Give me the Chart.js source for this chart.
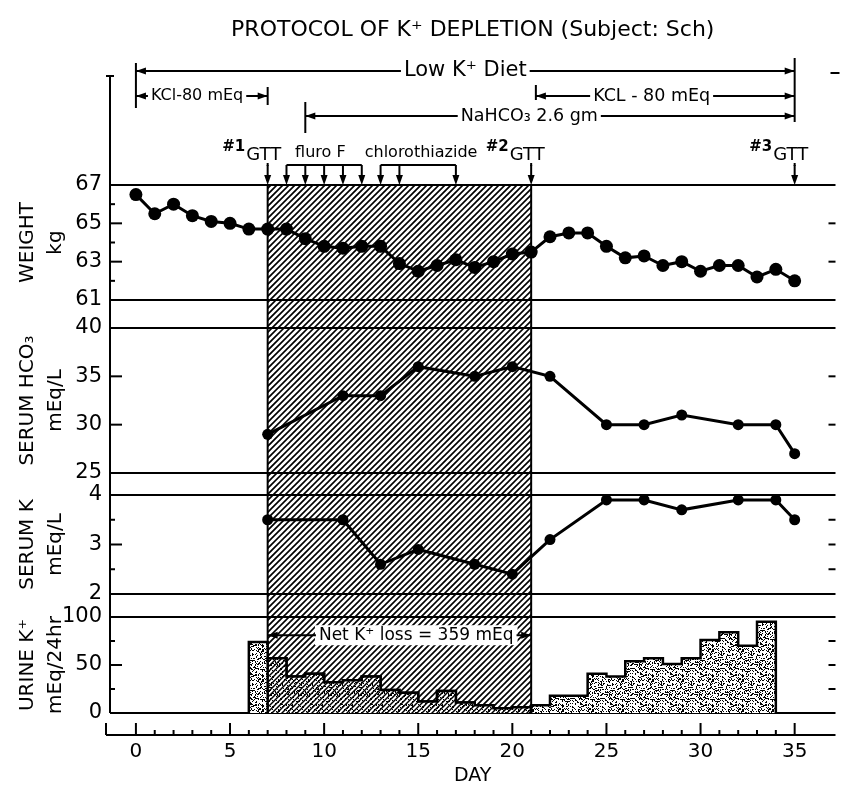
<!DOCTYPE html>
<html>
<head>
<meta charset="utf-8">
<script src="https://cdn.jsdelivr.net/npm/chart.js@4.4.0/dist/chart.umd.min.js"></script>
<style>
  html, body { margin: 0; padding: 0; background: #fff; }
</style>
</head>
<body>
<canvas id="chart" width="842" height="789"></canvas>
<script>
const FONT = "'DejaVu Sans', 'Liberation Sans', sans-serif";
Chart.defaults.font.family = FONT;
Chart.defaults.color = '#000';

// values
const days = [0, 1, 2, 3, 4, 5, 6, 7, 8, 9, 10, 11, 12, 13, 14, 15, 16, 17,
  18, 19, 20, 21, 22, 23, 24, 25, 26, 27, 28, 29, 30, 31, 32, 33, 34, 35];
const weightKg = [66.5, 65.5, 66.0, 65.4, 65.1, 65.0, 64.7, 64.7, 64.7, 64.2, 63.8, 63.7,
  63.8, 63.8, 62.9, 62.5, 62.8, 63.1, 62.7, 63.0, 63.4, 63.5, 64.3, 64.5,
  64.5, 63.8, 63.2, 63.3, 62.8, 63.0, 62.5, 62.8, 62.8, 62.2, 62.6, 62.0];

const bloodDays = [7, 11, 13, 15, 18, 20, 22, 25, 27, 29, 32, 34, 35];
const hco3Values = [29, 33, 33, 36, 35, 36, 35, 30, 30, 31, 30, 30, 27];
const serumKValues = [3.5, 3.5, 2.6, 2.9, 2.6, 2.4, 3.1, 3.9, 3.9, 3.7, 3.9, 3.9, 3.5];

// 24 h urine collections, start day of each collection
const urineDays = [6, 7, 8, 9, 10, 11, 12, 13, 14, 15, 16, 17, 18, 19,
  20, 21, 22, 23, 24, 25, 26, 27, 28, 29, 30, 31, 32, 33];
const urineValues = [74, 57, 38, 41, 32, 34, 38, 24, 21, 12, 23, 11, 8, 5,
  6, 8, 18, 18, 41, 38, 54, 57, 51, 57, 76, 84, 70, 95];

const depletionStart = 7;
const depletionEnd = 21;
const netKLoss = 359;

const gttDays = [7, 21, 35];
const fluroDays = [8, 9, 10, 11, 12];
const chlorothiazideDays = [13, 14, 17];
const regimenLabels = ['Low K⁺ Diet', 'KCl-80 mEq', 'KCL - 80 mEq', 'NaHCO₃ 2.6 gm'];
const regimenStart = [0, 0, 21.25, 9];
const regimenEnd = [35, 7, 35, 35];

const dayTicks = [0, 5, 10, 15, 20, 25, 30, 35];
const weightTicks = [61, 63, 65, 67];
const hco3Ticks = [25, 30, 35, 40];
const serumKTicks = [2, 3, 4];
const urineTicks = [0, 50, 100];
const weightMinor = [62, 64, 66];
const serumKMinor = [2.5, 3.5];
const urineMinor = [25, 75];

function pts(xs, ys) {
  return xs.map((x, i) => ({ x, y: ys[i] }));
}

// stepped outline of the daily urine collections
function urineSteps(from, to) {
  const out = [];
  let last = null;
  urineDays.forEach((d, i) => {
    if (d < from || d >= to) return;
    if (!out.length) out.push({ x: d, y: 0 });
    out.push({ x: d, y: urineValues[i] });
    last = d;
  });
  out.push({ x: last + 1, y: 0 });
  return out;
}

function makePattern(size, draw) {
  const c = document.createElement('canvas');
  c.width = size; c.height = size;
  const g = c.getContext('2d');
  draw(g, size);
  return g.createPattern(c, 'repeat');
}
function diagonals(g, s, step, lw) {
  g.strokeStyle = '#000';
  g.lineWidth = lw;
  g.beginPath();
  for (let k = -s; k <= s; k += step) {
    g.moveTo(k - 1, s + 1);
    g.lineTo(k + s + 1, -1);
  }
  g.stroke();
}
function stippleTile(g, s, pct) {
  g.fillStyle = '#000';
  for (let i = 0; i < s; i++) {
    for (let j = 0; j < s; j++) {
      const h = ((i * 73856093) ^ (j * 19349663) ^ (i * j * 83492791)) >>> 0;
      if (h % 100 < pct) g.fillRect(i, j, 1, 1);
    }
  }
}

const hatchPattern = makePattern(30, (g, s) => diagonals(g, s, 6, 1.6));
const stipplePattern = makePattern(30, (g, s) => {
  g.fillStyle = '#fff'; g.fillRect(0, 0, s, s);
  stippleTile(g, s, 32);
});
const denseBarPattern = makePattern(30, (g, s) => {
  g.fillStyle = '#fff'; g.fillRect(0, 0, s, s);
  stippleTile(g, s, 16);
  diagonals(g, s, 5, 1.5);
});

function seg(ctx, x0, y0, x1, y1) {
  ctx.beginPath(); ctx.moveTo(x0, y0); ctx.lineTo(x1, y1); ctx.stroke();
}
function head(ctx, x, y, dir) {
  const L = 10, W = 3.5;
  ctx.beginPath();
  ctx.moveTo(x, y);
  if (dir === 'left') { ctx.lineTo(x + L, y - W); ctx.lineTo(x + L, y + W); }
  else if (dir === 'right') { ctx.lineTo(x - L, y - W); ctx.lineTo(x - L, y + W); }
  else { ctx.lineTo(x - W, y - L); ctx.lineTo(x + W, y - L); }
  ctx.closePath(); ctx.fill();
}
function span(ctx, text, x0, x1, tx, y, size) {
  ctx.font = `${size}px ${FONT}`;
  ctx.textAlign = 'center'; ctx.textBaseline = 'middle';
  const w = ctx.measureText(text).width;
  ctx.fillText(text, tx, y);
  seg(ctx, x0, y, tx - w / 2 - 3, y);
  seg(ctx, tx + w / 2 + 3, y, x1, y);
  head(ctx, x0, y, 'left');
  head(ctx, x1, y, 'right');
}

const panels = [
  { id: 'yWeight', major: [63, 65], minor: weightMinor, rightMinor: false },
  { id: 'yHco3', major: [30, 35], minor: [], rightMinor: false },
  { id: 'yK', major: [3], minor: serumKMinor, rightMinor: true },
  { id: 'yUrine', major: [50], minor: urineMinor, rightMinor: true }
];

const protocolDecor = {
  id: 'protocolDecor',
  beforeDatasetsDraw(chart) {
    const { ctx, chartArea: a, scales } = chart;
    const px = v => scales.x.getPixelForValue(v);
    ctx.save();
    const h0 = px(depletionStart), h1 = px(depletionEnd);
    ctx.fillStyle = hatchPattern;
    ctx.fillRect(h0, a.top, h1 - h0, a.bottom - a.top);
    ctx.strokeStyle = '#000';
    ctx.lineWidth = 2;
    seg(ctx, h0, a.top, h0, a.bottom);
    seg(ctx, h1, a.top, h1, a.bottom);
    // panel frames and inward ticks
    for (const p of panels) {
      const s = scales[p.id];
      seg(ctx, a.left, s.top, a.right, s.top);
      seg(ctx, a.left, s.bottom, a.right, s.bottom);
      for (const v of p.major) {
        const y = s.getPixelForValue(v);
        seg(ctx, a.left, y, a.left + 12, y);
        seg(ctx, a.right, y, a.right - 7, y);
      }
      for (const v of p.minor) {
        const y = s.getPixelForValue(v);
        seg(ctx, a.left, y, a.left + 5, y);
        if (p.rightMinor) seg(ctx, a.right, y, a.right - 7, y);
      }
    }
    // left frame
    seg(ctx, a.left, 76, a.left, a.bottom);
    seg(ctx, a.left - 4, 76, a.left + 4, 76);
    seg(ctx, a.right - 5, 73, a.right + 4, 73);
    // day axis
    const ay = a.bottom + 22;
    seg(ctx, a.left - 4, ay, a.right, ay);
    seg(ctx, a.left - 4, ay - 12, a.left - 4, ay);
    for (let d = 0; d <= 35; d++) {
      const x = px(d);
      seg(ctx, x, ay - (d % 5 === 0 ? 12 : 5), x, ay);
    }
    ctx.restore();
  },
  afterDatasetsDraw(chart) {
    const { ctx, chartArea: a, scales } = chart;
    const px = v => scales.x.getPixelForValue(v);
    ctx.save();
    ctx.strokeStyle = '#000'; ctx.fillStyle = '#000'; ctx.lineWidth = 2;

    // net loss bracket
    const yk = scales.yUrine.getPixelForValue(81);
    const text = `Net K⁺ loss = ${netKLoss} mEq`;
    ctx.font = `17px ${FONT}`;
    const w = ctx.measureText(text).width;
    const tx = px(15) - 2;
    ctx.fillStyle = '#fff';
    ctx.fillRect(tx - w / 2 - 4, yk - 10, w + 8, 20);
    ctx.fillStyle = '#000';
    span(ctx, text, px(depletionStart), px(depletionEnd), tx, yk, 17);

    // treatment regimens
    const rowY = [71, 96, 96, 116];
    const textAt = [17.5, 3.25, 27.4, 20.9];
    const sizes = [21, 16, 17.5, 17.5];
    regimenLabels.forEach((lab, i) => {
      span(ctx, lab, px(regimenStart[i]), px(regimenEnd[i]), px(textAt[i]), rowY[i], sizes[i]);
    });
    seg(ctx, px(0), 63, px(0), 108);
    seg(ctx, px(35), 58, px(35), 122);
    seg(ctx, px(7), 87, px(7), 105);
    seg(ctx, px(21.25), 85, px(21.25), 100);
    seg(ctx, px(9), 102, px(9), 133);

    // GTT and drug markers
    const arrowDown = d => {
      const x = px(d);
      seg(ctx, x, 165, x, a.top - 4);
      head(ctx, x, a.top, 'down');
    };
    ctx.textBaseline = 'middle';
    gttDays.forEach((d, i) => {
      const x = px(d) - 4;
      arrowDown(d);
      seg(ctx, px(d), 163, px(d), 166);
      ctx.font = `18px ${FONT}`;
      ctx.textAlign = 'center';
      ctx.fillText('GTT', x, 155);
      const gw = ctx.measureText('GTT').width;
      ctx.font = `bold 15px ${FONT}`;
      ctx.textAlign = 'right';
      ctx.fillText('#' + (i + 1), x - gw / 2 - 1, 147);
    });
    const bracket = (list, label, tx) => {
      seg(ctx, px(list[0]), 165, px(list[list.length - 1]), 165);
      list.forEach(arrowDown);
      ctx.font = `16px ${FONT}`;
      ctx.textAlign = 'center';
      ctx.fillText(label, px(tx), 153);
    };
    bracket(fluroDays, 'fluro F', 9.8);
    bracket(chlorothiazideDays, 'chlorothiazide', 15.15);
    ctx.restore();
  }
};

function panelAxis(min, max, ticks, title, order, stackWeight) {
  return {
    type: 'linear', position: 'left', stack: 'panels', stackWeight, weight: order,
    min, max,
    afterBuildTicks: s => { s.ticks = ticks.map(v => ({ value: v })); },
    afterFit: s => { s.width = 110; },
    grid: { display: false, drawTicks: false },
    border: { display: false },
    ticks: { padding: 8, autoSkip: false, color: '#000', font: { size: 21 } },
    title: {
      display: !!title, text: title, color: '#000',
      font: { size: 20, lineHeight: 1.4 }, padding: { top: 14, bottom: 0 }
    }
  };
}
function spacerAxis(order, stackWeight) {
  return {
    type: 'linear', position: 'left', stack: 'panels', stackWeight, weight: order,
    min: 0, max: 1,
    afterFit: s => { s.width = 110; },
    grid: { display: false, drawTicks: false },
    border: { display: false },
    ticks: { display: false }
  };
}

new Chart(document.getElementById('chart'), {
  type: 'line',
  data: {
    datasets: [
      {
        data: pts(days, weightKg), yAxisID: 'yWeight', order: 0,
        borderColor: '#000', borderWidth: 3, pointRadius: 6.5,
        pointBackgroundColor: '#000', pointBorderWidth: 0
      },
      {
        data: pts(bloodDays, hco3Values), yAxisID: 'yHco3', order: 0,
        borderColor: '#000', borderWidth: 3, pointRadius: 5.5,
        pointBackgroundColor: '#000', pointBorderWidth: 0
      },
      {
        data: pts(bloodDays, serumKValues), yAxisID: 'yK', order: 0,
        borderColor: '#000', borderWidth: 3, pointRadius: 5.5,
        pointBackgroundColor: '#000', pointBorderWidth: 0
      },
      {
        data: urineSteps(depletionStart, depletionEnd), yAxisID: 'yUrine', order: 1,
        stepped: true, fill: 'origin', backgroundColor: denseBarPattern,
        borderColor: '#000', borderWidth: 2.5, pointRadius: 0
      },
      {
        data: urineSteps(0, 99), yAxisID: 'yUrine', order: 2,
        stepped: true, fill: 'origin', backgroundColor: stipplePattern,
        borderColor: '#000', borderWidth: 2.5, pointRadius: 0
      }
    ]
  },
  options: {
    responsive: false,
    animation: false,
    devicePixelRatio: 1,
    layout: { padding: { left: 0, right: 4, top: 0, bottom: 0 } },
    plugins: {
      legend: { display: false },
      tooltip: { enabled: false },
      title: {
        display: true, fullSize: false,
        text: 'PROTOCOL OF K⁺ DEPLETION (Subject: Sch)',
        color: '#000', font: { size: 22, weight: 'normal', lineHeight: 1.2 },
        padding: { top: 17, bottom: 141.6 }
      }
    },
    scales: {
      x: {
        type: 'linear', min: -1.377, max: 37.17,
        afterBuildTicks: s => { s.ticks = dayTicks.map(v => ({ value: v })); },
        afterFit: s => { s.height = 76; },
        grid: { display: false, drawTicks: false },
        border: { display: false },
        ticks: { padding: 27, autoSkip: false, maxRotation: 0, color: '#000', font: { size: 20 } },
        title: { display: true, text: 'DAY', color: '#000', font: { size: 19 }, padding: { top: 0, bottom: 2 } }
      },
      yWeight: panelAxis(61, 67, weightTicks, ['WEIGHT', 'kg'], 7, 115),
      gap1: spacerAxis(6, 28),
      yHco3: panelAxis(25, 40, hco3Ticks, ['SERUM HCO₃', 'mEq/L'], 5, 145),
      gap2: spacerAxis(4, 22),
      yK: panelAxis(2, 4, serumKTicks, ['SERUM K', 'mEq/L'], 3, 99),
      gap3: spacerAxis(2, 23),
      yUrine: panelAxis(0, 100, urineTicks, ['URINE K⁺', 'mEq/24hr'], 1, 96)
    }
  },
  plugins: [protocolDecor]
});
</script>
</body>
</html>
